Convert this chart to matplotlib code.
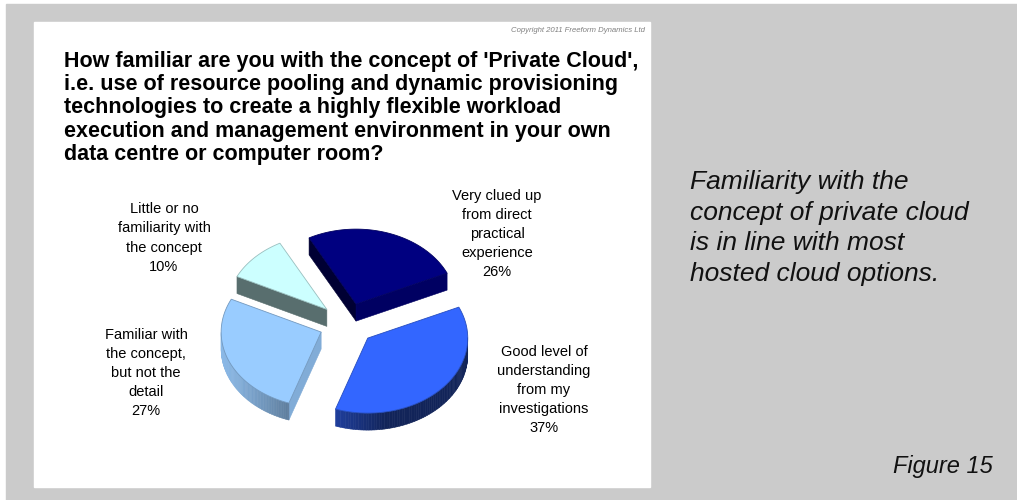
import numpy as np
import matplotlib.pyplot as plt
from matplotlib.patches import Polygon, Rectangle
from matplotlib.colors import to_rgb

# survey answers, clockwise from the top
labels = ['Very clued up\nfrom direct\npractical\nexperience',
          'Good level of\nunderstanding\nfrom my\ninvestigations',
          'Familiar with\nthe concept,\nbut not the\ndetail',
          'Little or no\nfamiliarity with\nthe concept']
shares = [26, 37, 27, 10]
colours = ['#000080', '#3366ff', '#99ccff', '#ccffff']

title = ("How familiar are you with the concept of 'Private Cloud',\n"
         "i.e. use of resource pooling and dynamic provisioning\n"
         "technologies to create a highly flexible workload\n"
         "execution and management environment in your own\n"
         "data centre or computer room?")
note = ("Familiarity with the\nconcept of private cloud\n"
        "is in line with most\nhosted cloud options.")

plt.rcParams['font.family'] = ['Liberation Sans', 'DejaVu Sans']

fig = plt.figure(figsize=(10.17, 5), dpi=100)
fig.patch.set_facecolor('white')
ax = fig.add_axes([0, 0, 1, 1])
ax.set_xlim(0, 1017)
ax.set_ylim(500, 0)
ax.axis('off')

ax.add_patch(Rectangle((6, 4), 1011, 496, color='#cbcbcb', zorder=0))
ax.add_patch(Rectangle((34, 22), 616, 465, color='white', zorder=1))

# 3d pie geometry (pixels)
cx, cy, R, sq, dz, boom = 347, 324, 100, 0.75, 17, 28
start = 118


def shade(c, f):
    r, g, b = to_rgb(c)
    return (r * f, g * f, b * f)


def pt(ox, oy, th, d=0.0):
    return (ox + R * np.cos(th), oy - R * sq * np.sin(th) + d)


edges = start - np.cumsum([0] + shares) * 3.6
pieces = []
for i, v in enumerate(shares):
    a0, a1 = np.radians(edges[i + 1]), np.radians(edges[i])
    mid = (a0 + a1) / 2
    ox = cx + boom * np.cos(mid)
    oy = cy - boom * sq * np.sin(mid)
    pieces.append((oy, ox, a0, a1, colours[i]))

# back slices first
for oy, ox, a0, a1, col in sorted(pieces):
    faces = []
    th = np.linspace(a0, a1, 90)
    for t0, t1 in zip(th[:-1], th[1:]):
        n = (t0 + t1) / 2
        if np.sin(n) < 0:
            f = 0.35 + 0.55 * max(0, np.cos(n - np.radians(190)))
            quad = [pt(ox, oy, t0), pt(ox, oy, t1), pt(ox, oy, t1, dz), pt(ox, oy, t0, dz)]
            faces.append((np.mean([q[1] for q in quad]), quad, shade(col, f)))
    for a, n in ((a0, a0 - np.pi / 2), (a1, a1 + np.pi / 2)):
        if np.sin(n) < 0:
            f = 0.4 + 0.45 * max(0, np.cos(n - np.radians(330)))
            quad = [(ox, oy), pt(ox, oy, a), pt(ox, oy, a, dz), (ox, oy + dz)]
            faces.append((np.mean([q[1] for q in quad]), quad, shade(col, f)))
    for _, quad, fc in sorted(faces, key=lambda x: x[0]):
        ax.add_patch(Polygon(quad, closed=True, facecolor=fc, edgecolor=fc,
                             lw=0.4, zorder=2))
    top = [(ox, oy)] + [pt(ox, oy, t) for t in th]
    ax.add_patch(Polygon(top, closed=True, facecolor=col,
                         edgecolor=shade(col, 0.75), lw=0.6, zorder=3))

label_xy = [(497, 234), (544, 390), (146, 373), (164, 238)]
for (x, y), lab, v in zip(label_xy, labels, shares):
    ax.text(x, y, f'{lab}\n{v}%', ha='center', va='center', fontsize=10.5,
            linespacing=1.46, color='black', zorder=4)

ax.text(64, 108, title, ha='left', va='center', fontsize=15.5, fontweight='bold',
        linespacing=1.13, zorder=4)
ax.text(645, 31, 'Copyright 2011 Freeform Dynamics Ltd', ha='right', va='center',
        fontsize=5.6, style='italic', color='#808080', zorder=4)

ax.text(690, 228, note, ha='left', va='center', fontsize=19, style='italic',
        linespacing=1.36, color='#111111', zorder=4)
ax.text(993, 466, 'Figure 15', ha='right', va='center', fontsize=17,
        style='italic', color='#111111', zorder=4)

fig.savefig('out.png', dpi=100)
